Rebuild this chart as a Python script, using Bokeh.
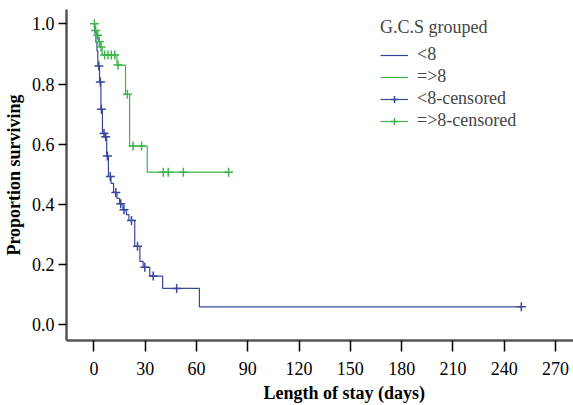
import numpy as np
from bokeh.plotting import figure
from bokeh.models import Range1d, FixedTicker, Legend, LegendItem, Title, NumeralTickFormatter
from bokeh.embed import file_html
from bokeh.resources import INLINE

# ---- data ----
# Group "<8": event times (days) and survival after each step
lt8_times = [0, 0.5, 1.2, 1.8, 2.3, 3.3, 4.1, 5.0, 6.5, 7.5, 8.5, 10.0, 11.5, 13.5,
             15.0, 17.0, 19.0, 20.5, 23.9, 26.9, 28.8, 32.7, 40.2, 61.7]
lt8_surv = [1.0, 0.97, 0.94, 0.91, 0.86, 0.807, 0.716, 0.636, 0.625, 0.561, 0.493,
            0.47, 0.44, 0.42, 0.402, 0.382, 0.366, 0.347, 0.261, 0.211, 0.191, 0.162,
            0.121, 0.060]
lt8_end = 250
lt8_censored = [2.9, 3.8, 4.4, 5.9, 6.9, 7.9, 9.6, 12.8, 15.7, 17.6, 22.0, 25.5,
                29.8, 34.7, 48.4, 250]

# Group "=>8"
ge8_times = [0, 0.6, 1.6, 2.8, 3.6, 4.8, 13.5, 18.5, 20.9, 31.2]
ge8_surv = [1.0, 0.978, 0.962, 0.94, 0.923, 0.896, 0.863, 0.766, 0.594, 0.507]
ge8_end = 78.8
ge8_censored = [0.3, 1.0, 2.2, 3.2, 4.2, 6.3, 8.2, 10.2, 12.2, 14.1, 19.6, 22.9,
                27.9, 40.6, 43.5, 52.3, 78.8]

x_ticks = [0, 30, 60, 90, 120, 150, 180, 210, 240, 270]
y_ticks = [0.0, 0.2, 0.4, 0.6, 0.8, 1.0]

BLUE = "#37479c"
GREEN = "#3db54a"
SERIF = "Liberation Serif"


def surv_at(times, surv, t):
    idx = np.searchsorted(np.asarray(times), np.asarray(t), side="right") - 1
    return list(np.asarray(surv)[idx])


p = figure(frame_width=507, frame_height=331,
           min_border_left=64, min_border_right=0, min_border_top=9, min_border_bottom=62,
           x_range=Range1d(-16.02, 280.5), y_range=Range1d(-0.052, 1.0475),
           output_backend="svg", toolbar_location=None)

p.xgrid.visible = False
p.ygrid.visible = False
p.outline_line_color = None
p.background_fill_color = "white"

# curves
bx = lt8_times + [lt8_end]
by = lt8_surv + [lt8_surv[-1]]
gx = ge8_times + [ge8_end]
gy = ge8_surv + [ge8_surv[-1]]

r_b = p.step(bx, by, mode="after", line_color=BLUE, line_width=1.2)
r_bc = p.scatter(lt8_censored, surv_at(lt8_times, lt8_surv, lt8_censored),
                 marker="cross", size=9, line_color=BLUE, line_width=1.5)
r_g = p.step(gx, gy, mode="after", line_color=GREEN, line_width=1.2)
r_gc = p.scatter(ge8_censored, surv_at(ge8_times, ge8_surv, ge8_censored),
                 marker="cross", size=9, line_color=GREEN, line_width=1.5)

# legend helper lines (not visible on the plot, only for legend icons)
r_bl = p.line([np.nan], [np.nan], line_color=BLUE, line_width=1.2)
r_gl = p.line([np.nan], [np.nan], line_color=GREEN, line_width=1.2)

# axes
for ax in (p.xaxis[0], p.yaxis[0]):
    ax.axis_line_width = 2.5
    ax.axis_line_color = "#555555"
    ax.major_tick_line_color = "black"
    ax.major_tick_line_width = 1.5
    ax.major_tick_in = 0
    ax.minor_tick_line_color = None
    ax.major_label_text_font = SERIF
    ax.major_label_text_font_size = "18px"
    ax.major_label_text_color = "black"

p.xaxis.ticker = FixedTicker(ticks=x_ticks)
p.xaxis.major_tick_out = 11
p.xaxis.major_label_standoff = 10
p.yaxis.ticker = FixedTicker(ticks=y_ticks)
p.yaxis.formatter = NumeralTickFormatter(format="0.0")
p.yaxis.major_tick_out = 8
p.yaxis.major_label_standoff = 4

p.yaxis.axis_label = "Proportion surviving"
p.yaxis.axis_label_text_font = SERIF
p.yaxis.axis_label_text_font_style = "bold"
p.yaxis.axis_label_text_font_size = "18px"
p.yaxis.axis_label_text_color = "black"
p.yaxis.axis_label_standoff = 5

xt = Title(text="Length of stay (days)", align="left", offset=197, standoff=6,
           text_font=SERIF, text_font_style="bold", text_font_size="18px",
           text_color="black")
p.add_layout(xt, "below")

legend = Legend(items=[
    LegendItem(label="<8", renderers=[r_b]),
    LegendItem(label="=>8", renderers=[r_g]),
    LegendItem(label="<8-censored", renderers=[r_bl, r_bc]),
    LegendItem(label="=>8-censored", renderers=[r_gl, r_gc]),
], location=(314, 209), title="G.C.S grouped")
legend.background_fill_alpha = 0
legend.border_line_color = None
legend.padding = 0
legend.margin = 0
legend.spacing = 1
legend.glyph_width = 28
legend.glyph_height = 18
legend.label_height = 18
legend.label_standoff = 9
legend.label_text_font = SERIF
legend.label_text_font_size = "18px"
legend.title_text_font = SERIF
legend.title_text_font_style = "normal"
legend.title_text_font_size = "18px"
legend.title_standoff = 6
p.add_layout(legend)

open("out.html", "w").write(file_html(p, INLINE))
